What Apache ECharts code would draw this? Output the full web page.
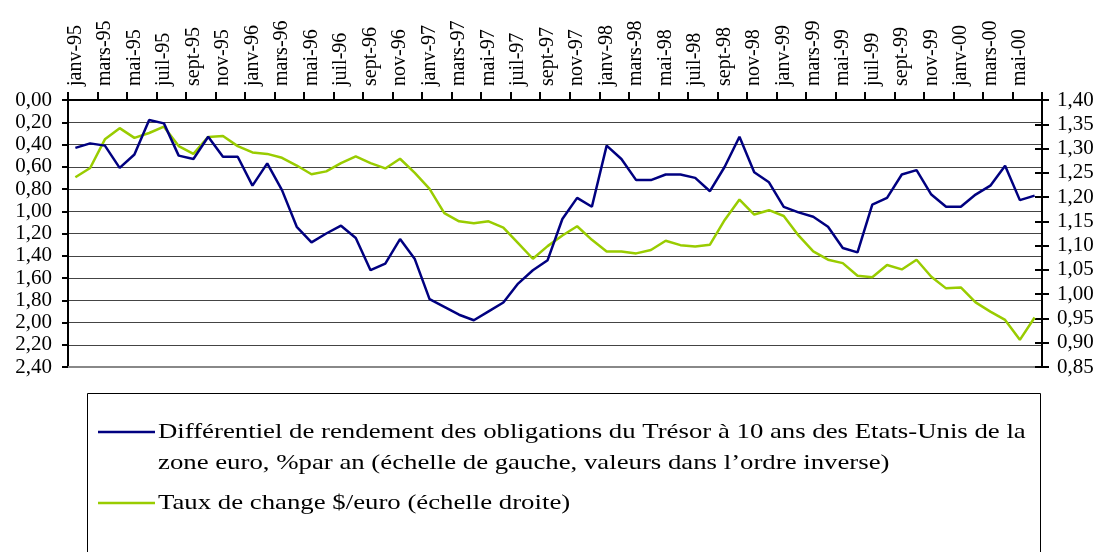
<!DOCTYPE html>
<html>
<head>
<meta charset="utf-8">
<script src="https://cdn.jsdelivr.net/npm/echarts@6/dist/echarts.min.js"></script>
<style>html,body{margin:0;padding:0;background:#fff;}#c{width:1097px;height:552px;}</style>
</head>
<body>
<div id="c"></div>
<script>
const categories = [
 'janv-95','févr-95','mars-95','avr-95','mai-95','juin-95','juil-95','août-95','sept-95','oct-95','nov-95','déc-95',
 'janv-96','févr-96','mars-96','avr-96','mai-96','juin-96','juil-96','août-96','sept-96','oct-96','nov-96','déc-96',
 'janv-97','févr-97','mars-97','avr-97','mai-97','juin-97','juil-97','août-97','sept-97','oct-97','nov-97','déc-97',
 'janv-98','févr-98','mars-98','avr-98','mai-98','juin-98','juil-98','août-98','sept-98','oct-98','nov-98','déc-98',
 'janv-99','févr-99','mars-99','avr-99','mai-99','juin-99','juil-99','août-99','sept-99','oct-99','nov-99','déc-99',
 'janv-00','févr-00','mars-00','avr-00','mai-00','juin-00'
];
const spread = [
 0.43,0.39,0.41,0.61,0.49,0.18,0.21,0.50,0.53,0.33,0.51,0.51,
 0.77,0.57,0.81,1.14,1.28,1.20,1.13,1.24,1.53,1.47,1.25,1.43,
 1.79,1.86,1.93,1.98,1.90,1.82,1.65,1.53,1.44,1.07,0.88,0.96,
 0.41,0.53,0.72,0.72,0.67,0.67,0.70,0.82,0.60,0.33,0.65,0.74,
 0.96,1.01,1.05,1.14,1.33,1.37,0.94,0.88,0.67,0.63,0.85,0.96,
 0.96,0.85,0.77,0.59,0.90,0.86
];
const fx = [
 1.241,1.260,1.319,1.342,1.322,1.332,1.345,1.305,1.289,1.324,1.326,1.305,
 1.292,1.289,1.281,1.265,1.247,1.253,1.270,1.284,1.270,1.259,1.279,1.250,
 1.217,1.167,1.150,1.146,1.150,1.137,1.105,1.073,1.099,1.121,1.140,1.112,
 1.088,1.088,1.084,1.091,1.110,1.101,1.098,1.102,1.153,1.195,1.164,1.173,
 1.161,1.121,1.088,1.071,1.064,1.038,1.035,1.060,1.051,1.071,1.036,1.012,
 1.014,0.983,0.964,0.947,0.906,0.952
];
const seriesNames = [
 'Différentiel de rendement des obligations du Trésor à 10 ans des Etats-Unis de la zone euro, %par an (échelle de gauche, valeurs dans l’ordre inverse)',
 'Taux de change $/euro (échelle droite)'
];
const legendLines = [
 'Différentiel de rendement des obligations du Trésor à 10 ans des Etats-Unis de la',
 'zone euro, %par an (échelle de gauche, valeurs dans l’ordre inverse)',
 'Taux de change $/euro (échelle droite)'
];
const leftMin = 0, leftMax = 2.4, leftStep = 0.2;
const rightMin = 0.85, rightMax = 1.40, rightStep = 0.05;

const FONT = '"Liberation Serif", "Times New Roman", serif';
const BLUE = '#000080', GREEN = '#99CC00';
const fmt = v => (Math.round(v * 100) / 100).toFixed(2).replace('.', ',');

const chart = echarts.init(document.getElementById('c'), null, {renderer: 'canvas'});
chart.setOption({
  animation: false,
  backgroundColor: '#fff',
  grid: {left: 68, right: 55, top: 100, bottom: 185, containLabel: false},
  xAxis: [{
    type: 'category', position: 'top', data: categories, boundaryGap: true,
    axisLine: {show: true, lineStyle: {color: '#000', width: 2}},
    axisTick: {show: true, interval: 1, length: 8, inside: false, lineStyle: {color: '#000', width: 2}},
    axisLabel: {interval: 1, rotate: 90, margin: 14, color: '#000', fontFamily: FONT, fontSize: 20},
    splitLine: {show: false}
  }, {
    type: 'category', position: 'bottom', data: categories, boundaryGap: true,
    axisLine: {show: true, lineStyle: {color: '#888', width: 2}},
    axisTick: {show: false}, axisLabel: {show: false}, splitLine: {show: false}
  }],
  yAxis: [{
    type: 'value', position: 'left', inverse: true, min: leftMin, max: leftMax, interval: leftStep,
    axisLine: {show: true, onZero: false, lineStyle: {color: '#000', width: 2}},
    axisTick: {show: true, length: 6, lineStyle: {color: '#000', width: 2}},
    axisLabel: {formatter: fmt, margin: 16, color: '#000', fontFamily: FONT, fontSize: 21},
    splitLine: {show: true, lineStyle: {color: '#444', width: 1}}
  }, {
    type: 'value', position: 'right', min: rightMin, max: rightMax, interval: rightStep,
    axisLine: {show: true, onZero: false, lineStyle: {color: '#000', width: 2}},
    axisTick: {show: true, length: 7, lineStyle: {color: '#000', width: 2}},
    axisLabel: {formatter: fmt, margin: 15, color: '#000', fontFamily: FONT, fontSize: 21},
    splitLine: {show: false}
  }, {
    type: 'value', position: 'right', min: rightMin, max: rightMax, interval: rightStep,
    axisLine: {show: false},
    axisTick: {show: true, inside: true, length: 7, lineStyle: {color: '#000', width: 2}},
    axisLabel: {show: false}, splitLine: {show: false}
  }],
  series: [{
    name: seriesNames[0], type: 'line', xAxisIndex: 0, yAxisIndex: 0, data: spread,
    symbol: 'none', lineStyle: {color: BLUE, width: 2.5}, itemStyle: {color: BLUE}, z: 3
  }, {
    name: seriesNames[1], type: 'line', xAxisIndex: 0, yAxisIndex: 1, data: fx,
    symbol: 'none', lineStyle: {color: GREEN, width: 2.5}, itemStyle: {color: GREEN}, z: 2
  }],
  graphic: [
    {type: 'rect', shape: {x: 87.5, y: 393.5, width: 953, height: 175}, style: {fill: '#fff', stroke: '#000', lineWidth: 1}},
    {type: 'line', shape: {x1: 98, y1: 432, x2: 155, y2: 432}, style: {stroke: BLUE, lineWidth: 2.5}},
    {type: 'text', x: 158, y: 432, scaleX: 1.275, style: {text: legendLines[0], font: '21px ' + FONT, fill: '#000', verticalAlign: 'middle'}},
    {type: 'text', x: 158, y: 463, scaleX: 1.275, style: {text: legendLines[1], font: '21px ' + FONT, fill: '#000', verticalAlign: 'middle'}},
    {type: 'line', shape: {x1: 98, y1: 503, x2: 155, y2: 503}, style: {stroke: GREEN, lineWidth: 2.5}},
    {type: 'text', x: 158, y: 503, scaleX: 1.275, style: {text: legendLines[2], font: '21px ' + FONT, fill: '#000', verticalAlign: 'middle'}}
  ]
});
</script>
</body>
</html>
